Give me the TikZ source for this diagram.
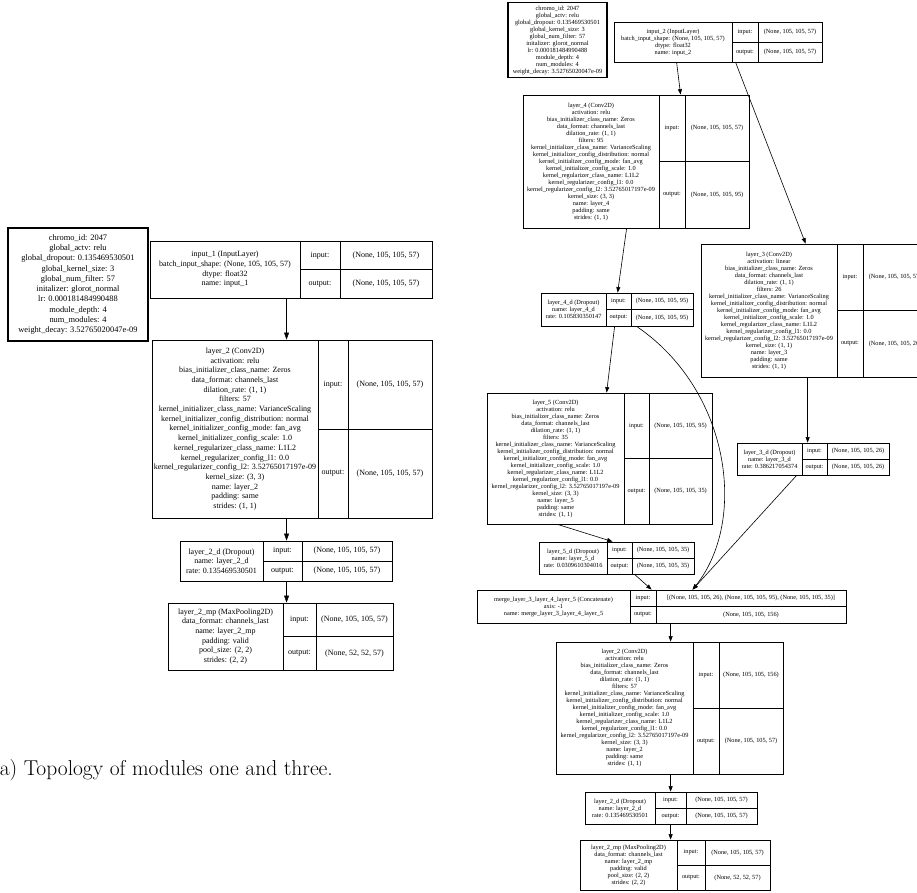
\documentclass[tikz,border=0pt]{standalone}
\usepackage{fontspec}
\usetikzlibrary{fit,arrows.meta}
\newfontfamily\gvfont{Liberation Serif}

% one Keras layer drawn as a graphviz record: text | input:/output: | shapes
\newcommand\layer[7]{\def\lname{#1}\def\lL{#2}\def\lA{#3}\def\lB{#4}\def\lR{#5}\def\lT{#6}\def\lBo{#7}\layerbody}
\newcommand\layerbody[4]{%
  \node[cellframe, fit={(\lL,\lT) (\lR,\lBo)}] (\lname) {};
  \draw[cellline] (\lA,\lT) -- (\lA,\lBo) (\lB,\lT) -- (\lB,\lBo)
    (\lA,{(\lT+\lBo)/2}) -- (\lR,{(\lT+\lBo)/2});
  \node[#1] (\lname-t)  at ({(\lL+\lA)/2},{(\lT+\lBo)/2}) {#2};
  \node[#1] (\lname-i)  at ({(\lA+\lB)/2},{(3*\lT+\lBo)/4}) {input:};
  \node[#1] (\lname-o)  at ({(\lA+\lB)/2},{(\lT+3*\lBo)/4}) {output:};
  \node[#1] (\lname-iv) at ({(\lB+\lR)/2},{(3*\lT+\lBo)/4}) {#3};
  \node[#1] (\lname-ov) at ({(\lB+\lR)/2},{(\lT+3*\lBo)/4}) {#4};
}

\newcommand\hplines{chromo\_id: 2047\\global\_actv: relu\\global\_dropout: 0.135469530501\\global\_kernel\_size: 3\\global\_num\_filter: 57\\initalizer: glorot\_normal\\lr: 0.000181484990488\\module\_depth: 4\\num\_modules: 4\\weight\_decay: 3.52765020047e-09}

\newcommand\convtext[4]{#1 (Conv2D)\\activation: #2\\bias\_initializer\_class\_name: Zeros\\data\_format: channels\_last\\dilation\_rate: (1, 1)\\filters: #3\\kernel\_initializer\_class\_name: VarianceScaling\\kernel\_initializer\_config\_distribution: normal\\kernel\_initializer\_config\_mode: fan\_avg\\kernel\_initializer\_config\_scale: 1.0\\kernel\_regularizer\_class\_name: L1L2\\kernel\_regularizer\_config\_l1: 0.0\\kernel\_regularizer\_config\_l2: 3.52765017197e-09\\kernel\_size: #4\\name: #1\\padding: same\\strides: (1, 1)}

\newcommand\droptext[2]{#1 (Dropout)\\name: #1\\rate: #2}
\newcommand\pooltext{layer\_2\_mp (MaxPooling2D)\\data\_format: channels\_last\\name: layer\_2\_mp\\padding: valid\\pool\_size: (2, 2)\\strides: (2, 2)}
\newcommand\inputtext[1]{#1 (InputLayer)\\batch\_input\_shape: (None, 105, 105, 57)\\dtype: float32\\name: #1}

\begin{document}
\begin{tikzpicture}[x=1pt,y=-1pt,
  lt/.style={font=\gvfont\fontsize{8}{9.7}\selectfont, align=center, inner sep=0pt},
  rt/.style={font=\gvfont\fontsize{6.3}{7}\selectfont, align=center, inner sep=0pt},
  edge/.style={draw=black, -{Triangle[length=7pt,width=5pt]}},
  redge/.style={draw=black, line width=0.6pt, -{Triangle[length=5.5pt,width=4pt]}}]
\useasboundingbox (0,0) rectangle (917,892);
\clip (0,0) rectangle (917,892);
\fill[white] (0,0) rectangle (917,892);

% ---------------- module one ----------------
\begin{scope}[cellframe/.style={draw=black, inner sep=0pt, line width=0.9pt},
              cellline/.style={draw=black, line width=0.9pt}]
\node[draw=black, line width=1.4pt, minimum width=140pt, minimum height=113pt,
      font=\gvfont\fontsize{8.4}{10.3}\selectfont, align=center] (hp1) at (78,284.5) {\hplines};

\layer{in1}{150}{300}{340}{432}{241}{298}{lt}{\inputtext{input\_1}}{(None, 105, 105, 57)}{(None, 105, 105, 57)}
\layer{l2}{152}{318}{348}{432}{340}{518}{lt}{\convtext{layer\_2}{relu}{57}{(3, 3)}}{(None, 105, 105, 57)}{(None, 105, 105, 57)}
\layer{l2d}{180}{263}{302}{392}{541}{581}{lt}{\droptext{layer\_2\_d}{0.135469530501}}{(None, 105, 105, 57)}{(None, 105, 105, 57)}
\layer{l2mp}{168}{283}{316}{393}{603}{670}{lt}{\pooltext}{(None, 105, 105, 57)}{(None, 52, 52, 57)}
\end{scope}

\draw[edge] ([xshift=137pt]in1.south west) -- ([xshift=135pt]l2.north west);
\draw[edge] ([xshift=135pt]l2.south west) -- ([xshift=107pt]l2d.north west);
\draw[edge] ([xshift=107pt]l2d.south west) -- ([xshift=119pt]l2mp.north west);

\node[anchor=base west, font=\fontsize{21.5}{25}\selectfont, inner sep=0pt] (cap) at (-8,775)
  {(a) Topology of modules one and three.};

% ---------------- module three ----------------
\begin{scope}[cellframe/.style={draw=black, inner sep=0pt, line width=0.8pt},
              cellline/.style={draw=black, line width=0.8pt}]
\node[draw=black, line width=1.1pt, minimum width=99pt, minimum height=74pt,
      font=\gvfont\fontsize{6.3}{7}\selectfont, align=center] (hp2) at (557.5,40) {\hplines};

\layer{in2}{614}{732}{758}{822}{22}{62}{rt}{\inputtext{input\_2}}{(None, 105, 105, 57)}{(None, 105, 105, 57)}
\layer{l4}{523}{659}{685}{749}{95}{228}{rt}{\convtext{layer\_4}{relu}{95}{(3, 3)}}{(None, 105, 105, 57)}{(None, 105, 105, 95)}
\layer{l3}{701}{837}{863}{927}{244}{377}{rt}{\convtext{layer\_3}{linear}{26}{(1, 1)}}{(None, 105, 105, 57)}{(None, 105, 105, 26)}
\layer{l4d}{541}{606}{631}{693}{293}{326}{rt}{\droptext{layer\_4\_d}{0.105830350147}}{(None, 105, 105, 95)}{(None, 105, 105, 95)}
\layer{l5}{487}{624}{649}{712}{393}{524}{rt}{\convtext{layer\_5}{relu}{35}{(3, 3)}}{(None, 105, 105, 95)}{(None, 105, 105, 35)}
\layer{l3d}{737}{802}{827}{889}{443}{475}{rt}{\droptext{layer\_3\_d}{0.386217054374}}{(None, 105, 105, 26)}{(None, 105, 105, 26)}
\layer{l5d}{539}{607}{632}{694}{542}{574}{rt}{\droptext{layer\_5\_d}{0.0309610304016}}{(None, 105, 105, 35)}{(None, 105, 105, 35)}
\layer{mg}{477}{630}{656}{846}{590}{623}{rt}{merge\_layer\_3\_layer\_4\_layer\_5 (Concatenate)\\axis: -1\\name: merge\_layer\_3\_layer\_4\_layer\_5}{[(None, 105, 105, 26), (None, 105, 105, 95), (None, 105, 105, 35)]}{(None, 105, 105, 156)}
\layer{r2}{556}{693}{719}{783}{642}{774}{rt}{\convtext{layer\_2}{relu}{57}{(3, 3)}}{(None, 105, 105, 156)}{(None, 105, 105, 57)}
\layer{r2d}{585}{655}{686}{757}{792}{824}{rt}{\droptext{layer\_2\_d}{0.135469530501}}{(None, 105, 105, 57)}{(None, 105, 105, 57)}
\layer{r2mp}{580}{677}{705}{770}{840}{890}{rt}{\pooltext}{(None, 105, 105, 57)}{(None, 52, 52, 57)}
\end{scope}

\draw[redge] ([xshift=63pt]in2.south west) -- ([xshift=158pt]l4.north west);
\draw[redge] ([xshift=122pt]in2.south west) -- ([xshift=105pt]l3.north west);
\draw[redge] ([xshift=104pt]l4.south west) -- ([xshift=77pt]l4d.north west);
\draw[redge] ([xshift=74pt]l4d.south west) -- ([xshift=120pt]l5.north west);
\draw[redge] ([xshift=96pt]l4d.south west) .. controls (730,390) and (748,520) .. ([xshift=216pt]mg.north west);
\draw[redge] ([xshift=107pt]l3.south west) -- ([xshift=71pt]l3d.north west);
\draw[redge] ([xshift=60pt]l3d.south west) -- ([xshift=216pt]mg.north west);
\draw[redge] ([xshift=71pt]l5.south west) -- ([xshift=74pt]l5d.north west);
\draw[redge] ([xshift=96pt]l5d.south west) -- ([xshift=175pt]mg.north west);
\draw[redge] ([xshift=194pt]mg.south west) -- ([xshift=115pt]r2.north west);
\draw[redge] ([xshift=115pt]r2.south west) -- ([xshift=86pt]r2d.north west);
\draw[redge] ([xshift=86pt]r2d.south west) -- ([xshift=91pt]r2mp.north west);
\end{tikzpicture}
\end{document}
